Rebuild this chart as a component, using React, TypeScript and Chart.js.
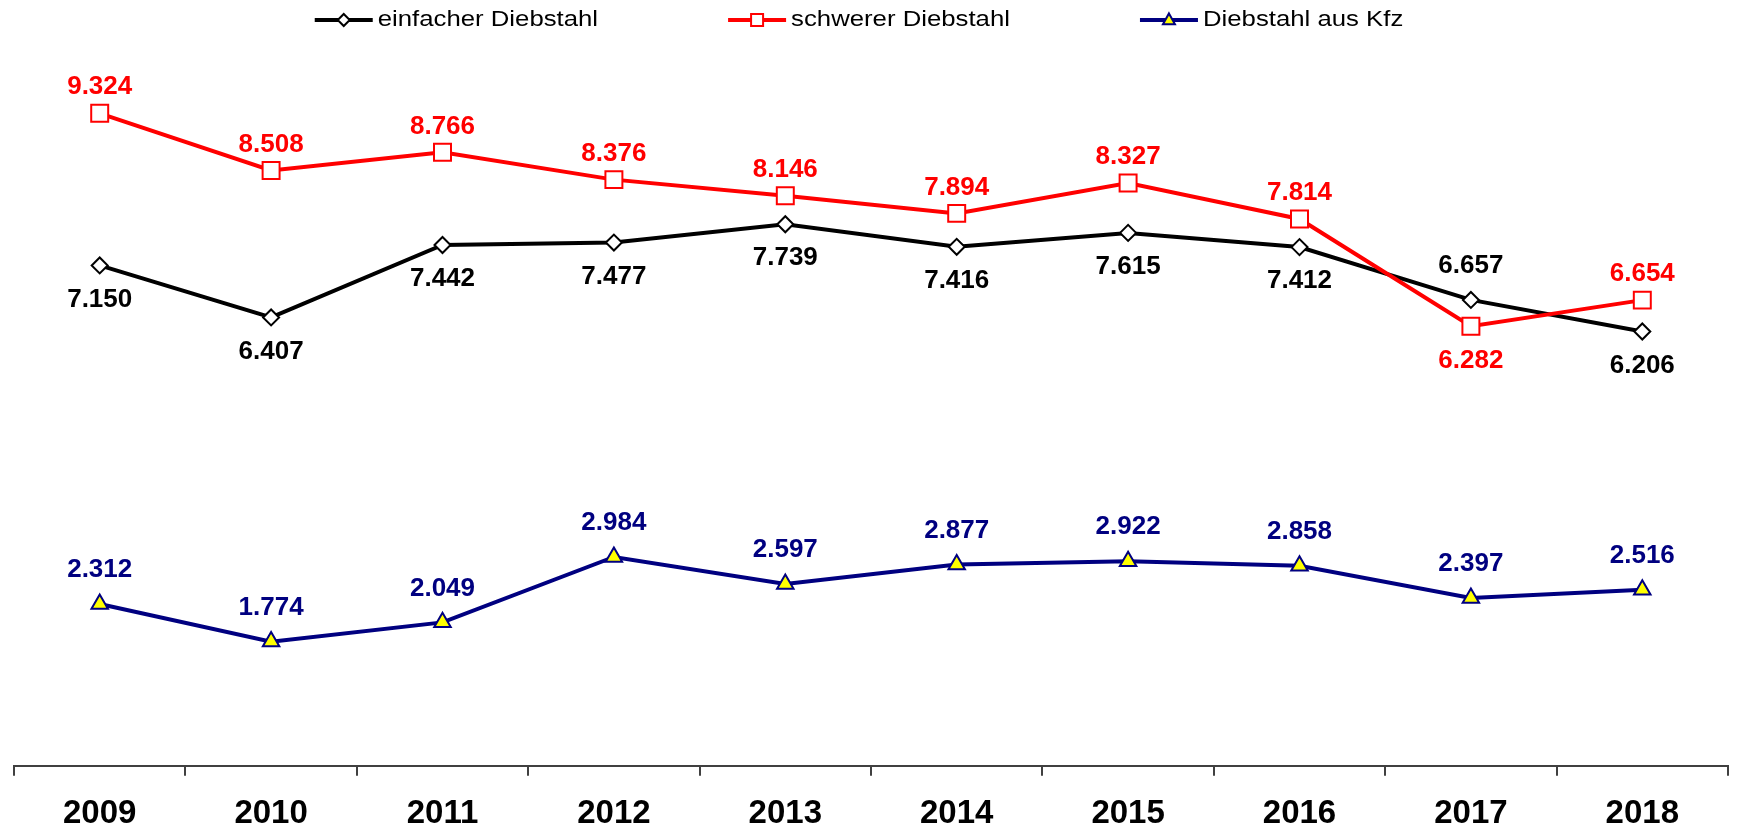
import React, { useEffect, useRef } from 'react';
import { Chart, registerables } from 'chart.js';

Chart.register(...registerables);

// ---- data ----
const years = ['2009', '2010', '2011', '2012', '2013', '2014', '2015', '2016', '2017', '2018'];
const einfacherDiebstahl = [7150, 6407, 7442, 7477, 7739, 7416, 7615, 7412, 6657, 6206];
const schwererDiebstahl = [9324, 8508, 8766, 8376, 8146, 7894, 8327, 7814, 6282, 6654];
const diebstahlAusKfz = [2312, 1774, 2049, 2984, 2597, 2877, 2922, 2858, 2397, 2516];
const seriesNames = ['einfacher Diebstahl', 'schwerer Diebstahl', 'Diebstahl aus Kfz'];
// label placement per point: 1 = above, -1 = below
const einfacherLabelSide = [-1, -1, -1, -1, -1, -1, -1, -1, 1, -1];
const schwererLabelSide = [1, 1, 1, 1, 1, 1, 1, 1, -1, 1];
const kfzLabelSide = [1, 1, 1, 1, 1, 1, 1, 1, 1, 1];
const yMin = 0;
const yMax = 10000;

const FONT = '"Liberation Sans", Arial, Helvetica, sans-serif';
const BLACK = '#000000';
const RED = '#FF0000';
const NAVY = '#000080';
const YELLOW = '#FFFF00';

const fmt = (n: number) => {
  const t = Math.floor(n / 1000);
  const r = n % 1000;
  return t > 0 ? `${t}.${String(r).padStart(3, '0')}` : String(r);
};

const dataLabelPlugin = {
  id: 'dataLabels',
  afterDatasetsDraw(chart: any) {
    const ctx = chart.ctx as CanvasRenderingContext2D;
    ctx.save();
    ctx.font = `bold 26px ${FONT}`;
    ctx.textAlign = 'center';
    ctx.textBaseline = 'middle';
    chart.data.datasets.forEach((ds: any, di: number) => {
      const meta = chart.getDatasetMeta(di);
      meta.data.forEach((pt: any, i: number) => {
        const side = ds.labelSide[i];
        const off = side > 0 ? ds.labelOffsetAbove : ds.labelOffsetBelow;
        ctx.fillStyle = ds.labelColor;
        ctx.fillText(fmt(ds.data[i]), pt.x, pt.y - side * off);
      });
    });
    ctx.restore();
  },
};

function drawMarker(ctx: CanvasRenderingContext2D, kind: string, x: number, y: number, s: number, fill: string, stroke: string) {
  ctx.beginPath();
  if (kind === 'diamond') {
    ctx.moveTo(x - s, y);
    ctx.lineTo(x, y - s);
    ctx.lineTo(x + s, y);
    ctx.lineTo(x, y + s);
    ctx.closePath();
  } else if (kind === 'square') {
    ctx.rect(x - s, y - s, 2 * s, 2 * s);
  } else {
    ctx.moveTo(x, y - s * 1.1);
    ctx.lineTo(x + s, y + s * 0.7);
    ctx.lineTo(x - s, y + s * 0.7);
    ctx.closePath();
  }
  ctx.fillStyle = fill;
  ctx.fill();
  ctx.lineWidth = 2;
  ctx.strokeStyle = stroke;
  ctx.stroke();
}

const legendPlugin = {
  id: 'customLegend',
  afterDraw(chart: any) {
    const ctx = chart.ctx as CanvasRenderingContext2D;
    ctx.save();
    const fontPx = 22;
    const scaleX = 1.17;
    ctx.font = `${fontPx}px ${FONT}`;
    ctx.textBaseline = 'middle';
    ctx.textAlign = 'left';
    const symW = 58;
    const gapText = 5;
    const gapItem = 130;
    const items = chart.data.datasets.map((ds: any) => ({
      ds,
      w: symW + gapText + ctx.measureText(ds.label).width * scaleX,
    }));
    const total = items.reduce((a: number, it: any) => a + it.w, 0) + gapItem * (items.length - 1);
    const cx = (chart.chartArea.left + chart.chartArea.right) / 2 - 12;
    let x = cx - total / 2;
    const yLine = 20;
    const yText = 20;
    items.forEach((it: any) => {
      const ds = it.ds;
      ctx.strokeStyle = ds.borderColor;
      ctx.lineWidth = 4;
      ctx.beginPath();
      ctx.moveTo(x, yLine);
      ctx.lineTo(x + symW, yLine);
      ctx.stroke();
      drawMarker(ctx, ds.legendMarker, x + symW / 2, yLine, ds.legendMarkerSize, ds.pointBackgroundColor, ds.pointBorderColor);
      ctx.save();
      ctx.translate(x + symW + gapText, yText);
      ctx.scale(scaleX, 1);
      ctx.fillStyle = '#000';
      ctx.fillText(ds.label, 0, 0);
      ctx.restore();
      x += it.w + gapItem;
    });
    ctx.restore();
  },
};

export default function App() {
  const ref = useRef<HTMLCanvasElement | null>(null);

  useEffect(() => {
    if (!ref.current) return;
    document.body.style.margin = '0';
    Chart.defaults.font.family = FONT;
    const chart = new Chart(ref.current, {
      type: 'line',
      data: {
        labels: years,
        datasets: [
          {
            label: seriesNames[0],
            data: einfacherDiebstahl,
            borderColor: BLACK,
            borderWidth: 4,
            pointStyle: 'rectRot',
            pointRadius: 8,
            pointBackgroundColor: '#FFFFFF',
            pointBorderColor: BLACK,
            pointBorderWidth: 2,
            order: 1,
            labelSide: einfacherLabelSide,
            labelOffsetAbove: 34,
            labelOffsetBelow: 34,
            labelColor: BLACK,
            legendMarker: 'diamond',
            legendMarkerSize: 6,
          } as any,
          {
            label: seriesNames[1],
            data: schwererDiebstahl,
            borderColor: RED,
            borderWidth: 4,
            pointStyle: 'rect',
            pointRadius: 12,
            pointBackgroundColor: '#FFFFFF',
            pointBorderColor: RED,
            pointBorderWidth: 2,
            order: 0,
            labelSide: schwererLabelSide,
            labelOffsetAbove: 26,
            labelOffsetBelow: 35,
            labelColor: RED,
            legendMarker: 'square',
            legendMarkerSize: 6,
          } as any,
          {
            label: seriesNames[2],
            data: diebstahlAusKfz,
            borderColor: NAVY,
            borderWidth: 4,
            pointStyle: 'triangle',
            pointRadius: 9.5,
            pointBackgroundColor: YELLOW,
            pointBorderColor: NAVY,
            pointBorderWidth: 2,
            order: 2,
            labelSide: kfzLabelSide,
            labelOffsetAbove: 34,
            labelOffsetBelow: 34,
            labelColor: NAVY,
            legendMarker: 'triangle',
            legendMarkerSize: 6,
          } as any,
        ],
      },
      options: {
        animation: false,
        responsive: false,
        events: [],
        layout: { padding: { top: 66, left: 11, right: 1, bottom: -25 } },
        plugins: {
          legend: { display: false },
          tooltip: { enabled: false },
          title: { display: false },
        },
        elements: { line: { tension: 0 } },
        scales: {
          x: {
            type: 'category',
            offset: true,
            grid: {
              offset: true,
              drawOnChartArea: false,
              drawTicks: true,
              tickLength: 10,
              color: '#404040',
              lineWidth: 2,
            },
            border: { display: true, color: '#404040', width: 2 },
            ticks: {
              color: '#000',
              padding: 34,
              font: { family: FONT, size: 33, weight: 'bold', lineHeight: 0.25 },
              maxRotation: 0,
              autoSkip: false,
            },
          },
          y: {
            display: false,
            min: yMin,
            max: yMax,
          },
        },
      },
      plugins: [dataLabelPlugin, legendPlugin],
    });
    return () => chart.destroy();
  }, []);

  return (
    <div style={{ position: 'absolute', left: 0, top: 0, width: 1742, height: 827 }}>
      <canvas ref={ref} width={1742} height={827} style={{ display: 'block' }} />
    </div>
  );
}
